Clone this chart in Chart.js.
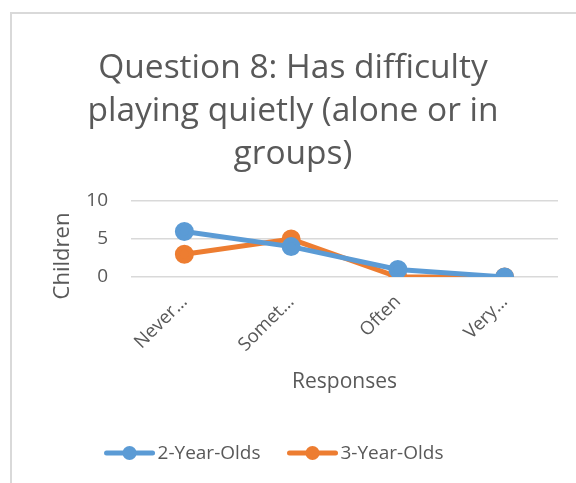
<!DOCTYPE html>
<html>
<head>
<meta charset="utf-8">
<script src="https://cdn.jsdelivr.net/npm/chart.js@4/dist/chart.umd.min.js"></script>
<style>
  html, body { margin:0; padding:0; background:#fff; }
  #wrap { position:relative; width:576px; height:483px; overflow:hidden; }
  #frame { position:absolute; left:10px; top:12px; width:700px; height:600px;
           border-left:2px solid #d9d9d9; border-top:2px solid #d9d9d9; }
  #chart { position:absolute; left:0; top:0; }
</style>
</head>
<body>
<div id="wrap">
  <div id="frame"></div>
  <canvas id="chart" width="576" height="483"></canvas>
</div>
<script>
// Question 8 — counts of children per response, by age group
const responses     = ['Never\u2026', 'Somet\u2026', 'Often', 'Very\u2026'];
const twoYearOlds   = [6, 4, 1, 0];
const threeYearOlds = [3, 5, 0, 0];
const yTicks        = [0, 5, 10];

const TEXT = '#595959';
const GRID = '#d9d9d9';
const FONT = '"Open Sans", sans-serif';

// y-axis caption, sits a bit below the middle of the plot like Excel does
const yCaption = {
  id: 'yCaption',
  afterDraw(chart){
    const ctx = chart.ctx;
    ctx.save();
    ctx.translate(63, 256);
    ctx.rotate(-Math.PI / 2);
    ctx.font = '22px ' + FONT;
    ctx.fillStyle = TEXT;
    ctx.textAlign = 'center';
    ctx.textBaseline = 'middle';
    ctx.fillText('Children', 0, 0);
    ctx.restore();
  }
};

// Excel-style legend: short line with a dot through it, then the label
const lineLegend = {
  id: 'lineLegend',
  afterDraw(chart){
    const ctx = chart.ctx;
    const y = 453;
    ctx.save();
    ctx.font = '19px ' + FONT;
    ctx.textBaseline = 'middle';
    const items = chart.data.datasets.map(ds => ({
      label: ds.label, color: ds.borderColor, w: 50 + 3 + ctx.measureText(ds.label).width
    }));
    const gap = 27;
    const total = items.reduce((s, it) => s + it.w, 0) + gap * (items.length - 1);
    let x = 274 - total / 2;
    items.forEach(it => {
      ctx.strokeStyle = it.color;
      ctx.lineWidth = 5;
      ctx.lineCap = 'round';
      ctx.beginPath(); ctx.moveTo(x + 2, y); ctx.lineTo(x + 48, y); ctx.stroke();
      ctx.fillStyle = it.color;
      ctx.beginPath(); ctx.arc(x + 25, y, 7, 0, Math.PI * 2); ctx.fill();
      ctx.fillStyle = TEXT;
      ctx.fillText(it.label, x + 53, y + 1);
      x += it.w + gap;
    });
    ctx.restore();
  }
};

new Chart(document.getElementById('chart'), {
  type: 'line',
  data: {
    labels: responses,
    datasets: [
      { label:'2-Year-Olds', data: twoYearOlds, borderColor:'#5b9bd5', backgroundColor:'#5b9bd5',
        borderWidth:5, pointRadius:7, pointHoverRadius:7, tension:0 },
      { label:'3-Year-Olds', data: threeYearOlds, borderColor:'#ed7d31', backgroundColor:'#ed7d31',
        borderWidth:5, pointRadius:7, pointHoverRadius:7, tension:0 }
    ]
  },
  plugins: [yCaption, lineLegend],
  options: {
    responsive:false,
    animation:false,
    layout: { padding: { left:28, right:18, top:20, bottom:73 } },
    plugins: {
      legend: { display:false },
      tooltip: { enabled:false },
      title: {
        display:true,
        text: ['Question 8: Has difficulty', 'playing quietly (alone or in', 'groups)'],
        color: TEXT,
        font: { family: FONT, size: 33.5, weight:'normal', lineHeight: 1.284 },
        padding: { top: 27, bottom: 25 }
      }
    },
    scales: {
      y: {
        min: 0, max: 10,
        afterBuildTicks(axis){ axis.ticks = yTicks.map(v => ({ value: v })); },
        afterFit(axis){ axis.width = 103; },
        ticks: { color: TEXT, font: { family: FONT, size: 19 }, padding: 23 },
        grid: { color: GRID, lineWidth: 1.5, drawTicks:false },
        border: { display:false }
      },
      x: {
        offset: true,
        afterFit(axis){ axis.height = 133; },
        ticks: { color: TEXT, font: { family: FONT, size: 18.5 }, minRotation:45, maxRotation:45, padding: 6, labelOffset: 0 },
        grid: { display:false },
        border: { display:false },
        title: { display:true, text:'Responses', color: TEXT, font: { family: FONT, size: 21 }, padding: { top: 0, bottom: 15 } }
      }
    }
  }
});
</script>
</body>
</html>
